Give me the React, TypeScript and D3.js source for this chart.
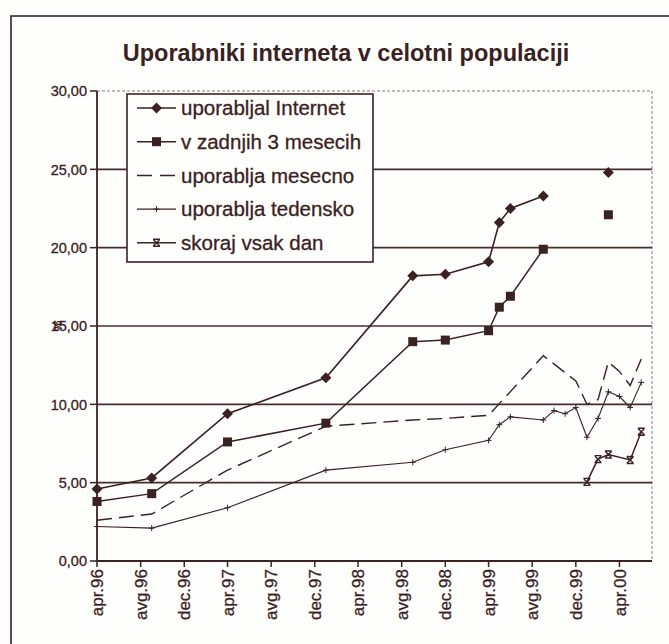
import React from "react";
import * as d3 from "d3";

// ---------- data ----------
const titleText = "Uporabniki interneta v celotni populaciji";
const seriesNames = [
  "uporabljal Internet",
  "v zadnjih 3 mesecih",
  "uporablja mesecno",
  "uporablja tedensko",
  "skoraj vsak dan",
];
const yTicks = [0, 5, 10, 15, 20, 25, 30];
const xTickLabels = [
  "apr.96", "avg.96", "dec.96", "apr.97", "avg.97", "dec.97", "apr.98",
  "avg.98", "dec.98", "apr.99", "avg.99", "dec.99", "apr.00",
];

type P = { m: string; v: number | null };

const uporabljal: P[] = [
  { m: "1996-04", v: 4.6 }, { m: "1996-09", v: 5.3 }, { m: "1997-04", v: 9.4 },
  { m: "1998-01", v: 11.7 }, { m: "1998-09", v: 18.2 }, { m: "1998-12", v: 18.3 },
  { m: "1999-04", v: 19.1 }, { m: "1999-05", v: 21.6 }, { m: "1999-06", v: 22.5 },
  { m: "1999-09", v: 23.3 }, { m: "1999-12", v: null }, { m: "2000-03", v: 24.8 },
];
const zadnjih3: P[] = [
  { m: "1996-04", v: 3.8 }, { m: "1996-09", v: 4.3 }, { m: "1997-04", v: 7.6 },
  { m: "1998-01", v: 8.8 }, { m: "1998-09", v: 14.0 }, { m: "1998-12", v: 14.1 },
  { m: "1999-04", v: 14.7 }, { m: "1999-05", v: 16.2 }, { m: "1999-06", v: 16.9 },
  { m: "1999-09", v: 19.9 }, { m: "1999-12", v: null }, { m: "2000-03", v: 22.1 },
];
const mesecno: P[] = [
  { m: "1996-04", v: 2.6 }, { m: "1996-09", v: 3.0 }, { m: "1997-04", v: 5.8 },
  { m: "1998-01", v: 8.6 }, { m: "1998-09", v: 9.0 }, { m: "1998-12", v: 9.1 },
  { m: "1999-04", v: 9.3 }, { m: "1999-09", v: 13.1 }, { m: "1999-12", v: 11.5 },
  { m: "2000-01", v: 10.0 }, { m: "2000-02", v: 10.3 }, { m: "2000-03", v: 12.7 },
  { m: "2000-04", v: 12.1 }, { m: "2000-05", v: 11.2 }, { m: "2000-06", v: 12.9 },
];
const tedensko: P[] = [
  { m: "1996-04", v: 2.2 }, { m: "1996-09", v: 2.1 }, { m: "1997-04", v: 3.4 },
  { m: "1998-01", v: 5.8 }, { m: "1998-09", v: 6.3 }, { m: "1998-12", v: 7.1 },
  { m: "1999-04", v: 7.7 }, { m: "1999-05", v: 8.7 }, { m: "1999-06", v: 9.2 },
  { m: "1999-09", v: 9.0 }, { m: "1999-10", v: 9.6 }, { m: "1999-11", v: 9.4 },
  { m: "1999-12", v: 9.8 }, { m: "2000-01", v: 7.9 }, { m: "2000-02", v: 9.1 },
  { m: "2000-03", v: 10.8 }, { m: "2000-04", v: 10.5 }, { m: "2000-05", v: 9.8 },
  { m: "2000-06", v: 11.4 },
];
const vsakDan: P[] = [
  { m: "2000-01", v: 5.05 }, { m: "2000-02", v: 6.5 }, { m: "2000-03", v: 6.8 },
  { m: "2000-05", v: 6.45 }, { m: "2000-06", v: 8.25 },
];

// ---------- styling ----------
const ink = "#3a2222";
const grid = "#4a2c2c";
const font = "'Liberation Sans', Arial, sans-serif";

const parse = d3.timeParse("%Y-%m");

export default function App() {
  const W = 669;
  const H = 644;
  const x = d3
    .scaleTime()
    .domain([parse("1996-04") as Date, parse("2000-07") as Date])
    .range([97, 652]);
  const y = d3.scaleLinear().domain([0, 30]).range([561, 91]);

  const tickDates = d3.timeMonth.range(
    parse("1996-04") as Date,
    parse("2000-05") as Date,
    4
  );

  const line = d3
    .line<P>()
    .defined((d) => d.v != null)
    .x((d) => x(parse(d.m) as Date))
    .y((d) => y(d.v as number));

  const px = (d: P) => x(parse(d.m) as Date);
  const py = (d: P) => y(d.v as number);

  const diamond = (cx: number, cy: number, r = 5.5) =>
    `M${cx},${cy - r}L${cx + r},${cy}L${cx},${cy + r}L${cx - r},${cy}Z`;

  const legendX = 127;
  const legendY = 94;
  const legendRow = 33.7;
  const legendY0 = 108;

  const plus = (cx: number, cy: number, key: string) => (
    <path key={key} d={`M${cx - 3},${cy}H${cx + 3}M${cx},${cy - 3}V${cy + 3}`} stroke={ink} strokeWidth={1} fill="none" />
  );
  const star = (cx: number, cy: number, key: string) => (
    <path
      key={key}
      d={`M${cx - 3},${cy - 3}L${cx + 3},${cy + 3}M${cx + 3},${cy - 3}L${cx - 3},${cy + 3}M${cx - 3.5},${cy - 3.5}H${cx + 3.5}M${cx - 3.5},${cy + 3.5}H${cx + 3.5}`}
      stroke={ink}
      strokeWidth={1.4}
      fill="none"
    />
  );

  return (
    <svg
      width={W}
      height={H}
      style={{ position: "absolute", left: 0, top: 0, background: "#fefefc" }}
      fontFamily={font}
    >
      <rect x={0} y={0} width={W} height={H} fill="#fefefc" />
      {/* outer chart border */}
      <rect x={11} y={16} width={720} height={720} fill="none" stroke={ink} strokeWidth={1.6} />

      {/* title */}
      <text x={346} y={61} textAnchor="middle" fontSize={23.5} fontWeight="bold" fill={ink}>
        {titleText}
      </text>

      {/* plot border (top / right) */}
      <line x1={97} x2={652} y1={y(30)} y2={y(30)} stroke="#8a7a7a" strokeWidth={1} strokeDasharray="3,2" />
      <line x1={652} x2={652} y1={y(30)} y2={y(0)} stroke="#8a7a7a" strokeWidth={1} strokeDasharray="3,2" />

      {/* gridlines */}
      {yTicks
        .filter((t) => t > 0 && t < 30)
        .map((t) => (
          <line key={"g" + t} x1={97} x2={652} y1={y(t)} y2={y(t)} stroke={grid} strokeWidth={1.6} />
        ))}

      {/* y axis */}
      <line x1={97} x2={97} y1={y(30)} y2={y(0)} stroke={ink} strokeWidth={1.8} />
      {yTicks.map((t) => (
        <g key={"yt" + t}>
          <line x1={90} x2={97} y1={y(t)} y2={y(t)} stroke={ink} strokeWidth={1.5} />
          <text x={87} y={y(t)} dy="0.36em" textAnchor="end" fontSize={14.5} fill={ink} stroke={ink} strokeWidth={0.3}>
            {t.toFixed(2).replace(".", ",")}
          </text>
        </g>
      ))}
      <text
        transform={`translate(58,${y(15)}) rotate(-90)`}
        textAnchor="middle"
        dy="0.36em"
        fontSize={12}
        fontWeight="bold"
        fill={ink}
      >
        %
      </text>

      {/* x axis */}
      <line x1={97} x2={652} y1={y(0)} y2={y(0)} stroke={ink} strokeWidth={1.8} />
      {tickDates.map((d, i) => (
        <g key={"xt" + i}>
          <line x1={x(d)} x2={x(d)} y1={y(0)} y2={y(0) + 6} stroke={ink} strokeWidth={1.5} />
          <text
            transform={`translate(${x(d)},${y(0) + 8}) rotate(-90)`}
            textAnchor="end"
            dy="0.36em"
            fontSize={17}
            fill={ink}
            stroke={ink}
            strokeWidth={0.3}
          >
            {xTickLabels[i]}
          </text>
        </g>
      ))}

      {/* series lines */}
      <path d={line(mesecno) || ""} fill="none" stroke={ink} strokeWidth={1.4} strokeDasharray="15,7" />
      <path d={line(tedensko) || ""} fill="none" stroke={ink} strokeWidth={1.1} />
      <path d={line(vsakDan) || ""} fill="none" stroke={ink} strokeWidth={1.5} />
      <path d={line(zadnjih3) || ""} fill="none" stroke={ink} strokeWidth={1.5} />
      <path d={line(uporabljal) || ""} fill="none" stroke={ink} strokeWidth={1.6} />

      {/* markers */}
      {tedensko.map((d, i) => plus(px(d), py(d), "p" + i))}
      {vsakDan.map((d, i) => star(px(d), py(d), "s" + i))}
      {zadnjih3
        .filter((d) => d.v != null)
        .map((d, i) => (
          <rect key={"q" + i} x={px(d) - 4.5} y={py(d) - 4.5} width={9} height={9} fill={ink} />
        ))}
      {uporabljal
        .filter((d) => d.v != null)
        .map((d, i) => (
          <path key={"d" + i} d={diamond(px(d), py(d))} fill={ink} />
        ))}

      {/* legend */}
      <rect x={legendX} y={legendY} width={246} height={168} fill="#fefefc" stroke={ink} strokeWidth={1.6} />
      {seriesNames.map((name, i) => {
        const cy = legendY0 + i * legendRow;
        const x1 = 137;
        const x2 = 176;
        const mx = (x1 + x2) / 2;
        return (
          <g key={"l" + i}>
            <line
              x1={x1}
              x2={x2}
              y1={cy}
              y2={cy}
              stroke={ink}
              strokeWidth={i === 3 ? 1.1 : 1.5}
              strokeDasharray={i === 2 ? "15,8" : undefined}
            />
            {i === 0 && <path d={diamond(mx, cy)} fill={ink} />}
            {i === 1 && <rect x={mx - 4.5} y={cy - 4.5} width={9} height={9} fill={ink} />}
            {i === 3 && plus(mx, cy, "lp")}
            {i === 4 && star(mx, cy, "ls")}
            <text x={181} y={cy} dy="0.36em" fontSize={20.5} fill={ink} stroke={ink} strokeWidth={0.3}>
              {name}
            </text>
          </g>
        );
      })}
    </svg>
  );
}
